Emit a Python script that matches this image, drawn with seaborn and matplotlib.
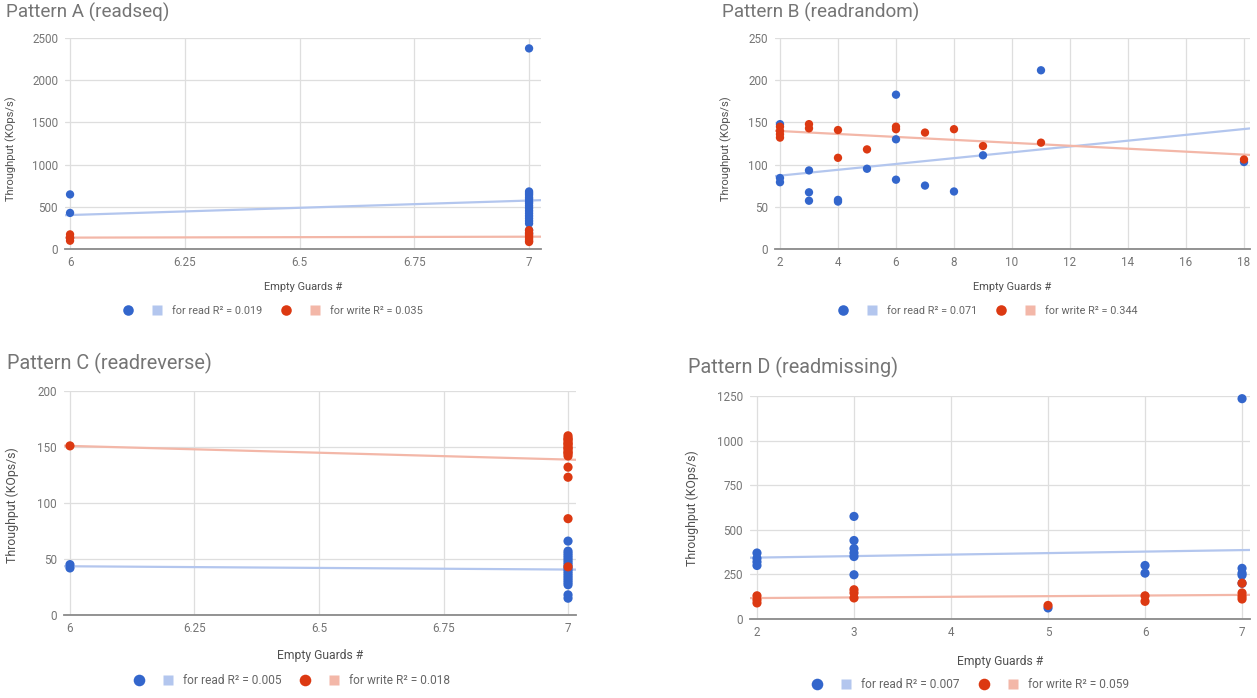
import matplotlib.pyplot as plt
import seaborn as sns
import pandas as pd
from matplotlib.lines import Line2D
from matplotlib.legend_handler import HandlerTuple

# ---- data ----
# Pattern A (readseq)
a_read_x = [6, 6, 6] + [7] * 18
a_read_y = [645, 425, 130,
            2380, 680, 660, 640, 610, 590, 560, 540, 510, 480, 450, 420, 390, 360, 330, 300, 220, 180]
a_write_x = [6, 6, 6] + [7] * 8
a_write_y = [170, 130, 95, 220, 190, 170, 150, 130, 110, 90, 80]

# Pattern B (readrandom)
b_read_x = [2, 2, 2, 3, 3, 3, 4, 4, 5, 6, 6, 6, 7, 8, 9, 11, 18]
b_read_y = [148, 84, 79, 93, 67, 57, 58, 56, 95, 183, 130, 82, 75, 68, 111, 212, 103]
b_write_x = [2, 2, 2, 2, 3, 3, 4, 4, 5, 6, 6, 7, 8, 9, 11, 18]
b_write_y = [145, 140, 136, 132, 148, 143, 141, 108, 118, 145, 142, 138, 142, 122, 126, 106]

# Pattern C (readreverse)
c_read_x = [6, 6] + [7] * 19
c_read_y = [45, 42, 66, 57, 55, 53, 51, 49, 47, 45, 43, 41, 39, 37, 35, 33, 31, 29, 27, 18, 15]
c_write_x = [6] + [7] * 18
c_write_y = [151, 160, 158, 157, 156, 154, 153, 152, 150, 149, 148, 146, 145, 144, 142, 132, 123, 86, 43]

# Pattern D (readmissing)
d_read_x = [2, 2, 2, 2, 3, 3, 3, 3, 3, 3, 5, 6, 6, 7, 7, 7, 7, 7]
d_read_y = [370, 340, 320, 300, 575, 440, 395, 370, 350, 248, 62, 300, 257, 1235, 284, 257, 246, 200]
d_write_x = [2, 2, 2, 3, 3, 3, 5, 6, 6, 7, 7, 7, 7]
d_write_y = [130, 108, 90, 164, 146, 118, 76, 130, 99, 201, 146, 127, 112]

titles = ["Pattern A (readseq)", "Pattern B (readrandom)",
          "Pattern C (readreverse)", "Pattern D (readmissing)"]
r2_read = ["0.019", "0.071", "0.005", "0.007"]
r2_write = ["0.035", "0.344", "0.018", "0.059"]

frac_ticks = [6, 6.25, 6.5, 6.75, 7]
frac_labels = ["6", "6.25", "6.5", "6.75", "7"]
b_xticks = [2, 4, 6, 8, 10, 12, 14, 16, 18]
d_xticks = [2, 3, 4, 5, 6, 7]
a_yticks = [0, 500, 1000, 1500, 2000, 2500]
b_yticks = [0, 50, 100, 150, 200, 250]
c_yticks = [0, 50, 100, 150, 200]
d_yticks = [0, 250, 500, 750, 1000, 1250]

BLUE, RED = "#3366cc", "#dc3912"
BLUE_L, RED_L = "#b3c6ee", "#f3b7a8"
W, H = 1257, 698

sns.set_style("white")
plt.rcParams['font.family'] = ['Roboto', 'DejaVu Sans']

fig = plt.figure(figsize=(W / 100, H / 100), dpi=100)


def px_box(l, r, t, b):
    return [l / W, 1 - b / H, (r - l) / W, (b - t) / H]


def fpos(x, y):
    return (x / W, 1 - y / H)


# layout in pixels: axes box, x limits, title, y label, x label, legend left edge; k = text scale
layout = [
    dict(box=(65, 541, 38.3, 248.7), xlim=(5.989, 7.026), title=(6, 12), ylab=(11, 149), xlab=(303, 287), leg=(113.5, 311), k=1.0),
    dict(box=(775, 1250, 38.3, 248.7), xlim=(1.828, 18.207), title=(722, 12), ylab=(726, 149), xlab=(1012, 287), leg=(828.5, 311), k=1.0),
    dict(box=(64, 576, 391, 615), xlim=(5.988, 7.016), title=(7, 363), ylab=(12, 505), xlab=(320, 656), leg=(124, 681), k=1.1),
    dict(box=(750, 1250, 396, 619), xlim=(1.928, 7.082), title=(688, 367), ylab=(692, 508), xlab=(1000, 661), leg=(802.5, 685), k=1.1),
]

series = [
    (a_read_x, a_read_y, a_write_x, a_write_y, frac_ticks, frac_labels, a_yticks),
    (b_read_x, b_read_y, b_write_x, b_write_y, b_xticks, [str(t) for t in b_xticks], b_yticks),
    (c_read_x, c_read_y, c_write_x, c_write_y, frac_ticks, frac_labels, c_yticks),
    (d_read_x, d_read_y, d_write_x, d_write_y, d_xticks, [str(t) for t in d_xticks], d_yticks),
]

for i, (rx, ry, wx, wy, xt, xtl, yt) in enumerate(series):
    lay = layout[i]
    k = lay['k']
    ax = fig.add_axes(px_box(*lay['box']))
    ax.set_xlim(*lay['xlim'])
    ax.set_ylim(yt[0], yt[-1])

    df = pd.concat([
        pd.DataFrame({'guards': rx, 'kops': ry, 'op': 'read'}),
        pd.DataFrame({'guards': wx, 'kops': wy, 'op': 'write'}),
    ], ignore_index=True)

    # linear trend lines, drawn over the full width like the sheet chart
    sns.regplot(x=rx, y=ry, ax=ax, scatter=False, ci=None, truncate=False,
                color=BLUE_L, line_kws=dict(lw=1.6, zorder=2))
    sns.regplot(x=wx, y=wy, ax=ax, scatter=False, ci=None, truncate=False,
                color=RED_L, line_kws=dict(lw=1.6, zorder=2))
    sns.scatterplot(data=df, x='guards', y='kops', hue='op', ax=ax,
                    palette={'read': BLUE, 'write': RED}, s=36 * k * k, edgecolor='none',
                    legend=False, zorder=3, clip_on=False)
    ax.set_xlim(*lay['xlim'])
    ax.set_ylim(yt[0], yt[-1])

    ax.set_xticks(xt)
    ax.set_xticklabels(xtl)
    ax.set_yticks(yt)
    ax.grid(True, color='#dedede', lw=0.9)
    ax.set_axisbelow(True)
    for s in ['top', 'left', 'right']:
        ax.spines[s].set_visible(False)
    ax.spines['bottom'].set_color('#8a8a8a')
    ax.spines['bottom'].set_linewidth(1.3)
    ax.spines['bottom'].set_zorder(2.5)
    ax.tick_params(length=0, labelsize=8.4, colors='#757575', pad=5)

    ax.set_xlabel('Empty Guards #', fontsize=7.9 * k, color='#505050')
    ax.xaxis.label.set_verticalalignment('center')
    ax.xaxis.set_label_coords(*fpos(*lay['xlab']), transform=fig.transFigure)
    ax.set_ylabel('Throughput (KOps/s)', fontsize=8 * k, color='#505050')
    ax.yaxis.label.set_verticalalignment('center')
    ax.yaxis.set_label_coords(*fpos(*lay['ylab']), transform=fig.transFigure)

    fig.text(*fpos(*lay['title']), titles[i], fontsize=13.6 * (1.05 if k > 1 else 1), color='#757575',
             ha='left', va='center')

    ms = 7.6 * k
    hb = (Line2D([], [], marker='o', ls='none', markersize=ms, markerfacecolor=BLUE, markeredgecolor='none'),
          Line2D([], [], marker='s', ls='none', markersize=ms * 0.86, markerfacecolor=BLUE_L, markeredgecolor='none'))
    hr = (Line2D([], [], marker='o', ls='none', markersize=ms, markerfacecolor=RED, markeredgecolor='none'),
          Line2D([], [], marker='s', ls='none', markersize=ms * 0.86, markerfacecolor=RED_L, markeredgecolor='none'))
    fs = 7.8 * k
    ax.legend([hb, hr], [f"for read R\u00b2 = {r2_read[i]}", f"for write R\u00b2 = {r2_write[i]}"],
              handler_map={tuple: HandlerTuple(ndivide=None, pad=0)},
              ncol=2, loc='center left', bbox_to_anchor=fpos(*lay['leg']),
              bbox_transform=fig.transFigure, frameon=False, fontsize=fs,
              handlelength=41.8 / fs, handletextpad=0.05, columnspacing=0.8,
              borderpad=0, borderaxespad=0, labelcolor='#666666')

fig.savefig('out.png', dpi=100)
